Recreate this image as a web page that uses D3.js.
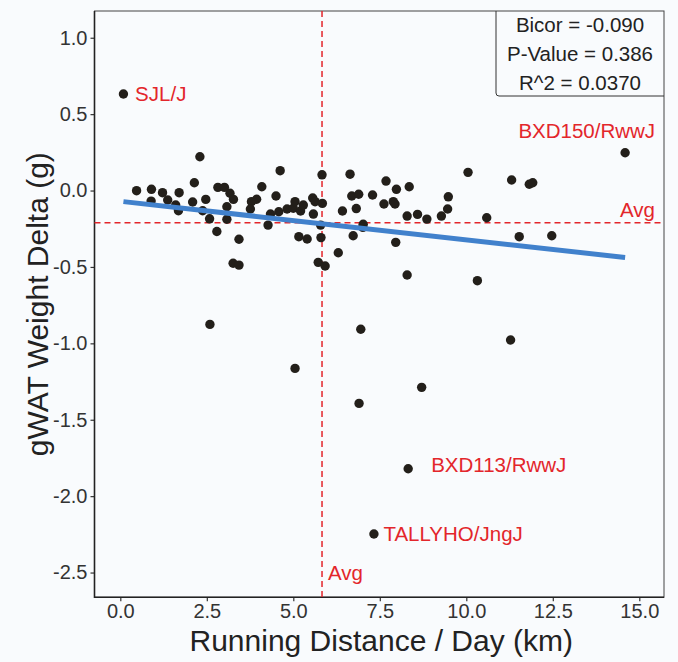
<!DOCTYPE html>
<html>
<head>
<meta charset="utf-8">
<script src="https://cdn.jsdelivr.net/npm/d3@7"></script>
<style>
  body { margin:0; background:#F9FBFD; }
  text { font-family:"Liberation Sans", Arial, sans-serif; }
</style>
</head>
<body>
<div id="canvas" class="canvas" style="width:678px;height:662px;"></div>
<script>
// running distance per day (km) for each strain
var distance = [0.09,0.47,0.90,0.89,1.22,1.37,1.70,1.60,1.68,2.30,
  2.14,2.09,2.47,2.38,2.58,2.79,2.82,3.01,3.17,3.27,
  3.08,3.08,3.43,3.26,3.43,2.59,4.09,4.62,4.50,3.79,
  3.94,3.76,4.34,4.27,4.58,4.82,5.00,5.05,5.21,5.29,
  5.56,5.63,5.84,5.58,5.83,5.79,5.16,5.40,5.80,6.30,
  5.72,5.92,6.42,6.64,6.69,6.89,6.82,7.29,7.68,7.98,
  8.35,10.05,7.62,7.89,7.94,6.73,7.02,7.01,7.96,8.29,
  8.59,8.86,9.28,9.48,9.46,8.29,10.32,6.95,11.31,11.82,
  11.92,14.59,10.59,11.53,12.47,11.28,5.05,6.90,8.71,8.32,
  7.33];
// gWAT weight delta (g), same order
var delta = [0.632,-0.001,0.008,-0.069,-0.014,-0.062,-0.014,-0.095,-0.132,0.221,
  0.051,-0.075,-0.058,-0.132,-0.185,-0.268,0.021,0.021,-0.018,-0.058,
  -0.106,-0.188,-0.319,-0.476,-0.488,-0.876,0.025,0.130,-0.036,-0.073,
  -0.057,-0.121,-0.154,-0.226,-0.139,-0.121,-0.116,-0.073,-0.134,-0.095,
  -0.049,-0.073,-0.084,-0.154,0.103,-0.226,-0.302,-0.317,-0.308,-0.407,
  -0.470,-0.494,-0.134,0.107,-0.036,-0.024,-0.118,-0.029,0.062,0.008,
  0.025,0.119,-0.088,-0.073,-0.088,-0.296,-0.221,-0.241,-0.339,-0.167,
  -0.156,-0.187,-0.167,-0.041,-0.121,-0.553,-0.590,-0.908,0.069,0.041,
  0.051,0.247,-0.178,-0.302,-0.296,-0.978,-1.164,-1.393,-1.288,-1.821,
  -2.248];

var labelNames = ['SJL/J','BXD150/RwwJ','BXD113/RwwJ','TALLYHO/JngJ'];
var labelIndex = [0,81,89,90];

var statLines = ['Bicor = -0.090','P-Value = 0.386','R^2 = 0.0370'];
var avgDistance = 5.83, avgDelta = -0.211;
var fitIntercept = -0.0703, fitSlope = -0.0252;

var xTicks = [0,2.5,5,7.5,10,12.5,15];
var yTicks = [1,0.5,0,-0.5,-1,-1.5,-2,-2.5];

// margin convention
var m = {t:11,r:14,b:64.7,l:94.5};
var outerWidth = 678, outerHeight = 662;
var w = outerWidth - m.l - m.r,
    h = outerHeight - m.t - m.b;

var svg = d3.select('.canvas')
    .append('svg')
    .attr('width',outerWidth)
    .attr('height',outerHeight);

var plot = svg.append('g')
    .attr('transform','translate(' + m.l + ',' + m.t + ')');

var scaleX = d3.scaleLinear().domain([-0.746,15.714]).range([0,w]);
var scaleY = d3.scaleLinear().domain([-2.662,1.175]).range([h,0]);

var red = '#E3262B', ink = '#231F1A';
// plain hyphen for negatives, like the original
var fmt = function(d){ return d.toFixed(1); };

// axes
var axisX = d3.axisBottom(scaleX).tickValues(xTicks).tickFormat(fmt).tickSize(4).tickPadding(3);
var axisY = d3.axisLeft(scaleY).tickValues(yTicks).tickFormat(fmt).tickSize(4).tickPadding(3);

var gx = plot.append('g').attr('class','axis axis-x')
    .attr('transform','translate(0,' + h + ')')
    .call(axisX);
var gy = plot.append('g').attr('class','axis axis-y')
    .call(axisY);

[gx,gy].forEach(function(g){
  g.select('.domain').remove();
  g.selectAll('line').attr('stroke','#333').attr('stroke-width',1.2);
  g.selectAll('text').attr('fill','#333').style('font-size','20px');
});

// panel border
plot.append('rect')
    .attr('width',w).attr('height',h)
    .attr('fill','none').attr('stroke','#444').attr('stroke-width',1);
plot.append('path')
    .attr('d','M0,0V' + h + 'H' + w)
    .attr('fill','none').attr('stroke','#222').attr('stroke-width',1.6);

// average lines
plot.append('line')
    .attr('x1',scaleX(avgDistance)).attr('x2',scaleX(avgDistance))
    .attr('y1',0).attr('y2',h)
    .attr('stroke',red).attr('stroke-width',1.5).attr('stroke-dasharray','6,4');
plot.append('line')
    .attr('x1',0).attr('x2',w)
    .attr('y1',scaleY(avgDelta)).attr('y2',scaleY(avgDelta))
    .attr('stroke',red).attr('stroke-width',1.5).attr('stroke-dasharray','6,4');

// points
var pts = distance.map(function(d,i){ return {x:d, y:delta[i]}; });

plot.selectAll('.dot')
    .data(pts)
    .enter()
    .append('circle')
    .attr('class','dot')
    .attr('cx',function(d){ return scaleX(d.x); })
    .attr('cy',function(d){ return scaleY(d.y); })
    .attr('r',4.7)
    .attr('fill',ink);

// fitted line over the data range
var xr = d3.extent(distance);
plot.append('line')
    .attr('x1',scaleX(xr[0])).attr('y1',scaleY(fitIntercept + fitSlope*xr[0]))
    .attr('x2',scaleX(xr[1])).attr('y2',scaleY(fitIntercept + fitSlope*xr[1]))
    .attr('stroke','#4181CC').attr('stroke-width',5);

// strain labels (pixel offsets from the point)
var labelOffset = {
  'SJL/J':{dx:11.7,dy:7,anchor:'start'},
  'BXD150/RwwJ':{dx:30,dy:-15,anchor:'end'},
  'BXD113/RwwJ':{dx:23,dy:3,anchor:'start'},
  'TALLYHO/JngJ':{dx:9.5,dy:7,anchor:'start'}
};
labelNames.forEach(function(name,i){
  var p = pts[labelIndex[i]], o = labelOffset[name];
  plot.append('text')
      .attr('x',scaleX(p.x) + o.dx)
      .attr('y',scaleY(p.y) + o.dy)
      .attr('text-anchor',o.anchor)
      .attr('fill',red)
      .style('font-size','20.5px')
      .text(name);
});

// Avg labels
plot.append('text')
    .attr('x',w - 9).attr('y',scaleY(avgDelta) - 6)
    .attr('text-anchor','end').attr('fill',red).style('font-size','20.5px')
    .text('Avg');
plot.append('text')
    .attr('x',scaleX(avgDistance) + 6).attr('y',h - 17)
    .attr('fill',red).style('font-size','20.5px')
    .text('Avg');

// stats box in the top right corner
var boxW = 168, boxH = 85, r = 3;
plot.append('path')
    .attr('d','M' + (w-boxW) + ',0V' + (boxH-r) + 'Q' + (w-boxW) + ',' + boxH + ' ' + (w-boxW+r) + ',' + boxH + 'H' + w)
    .attr('fill','none').attr('stroke','#333').attr('stroke-width',1);
statLines.forEach(function(s,i){
  plot.append('text')
      .attr('x',w - boxW/2).attr('y',20.5 + i*29)
      .attr('text-anchor','middle').attr('fill','#222')
      .style('font-size','20.5px')
      .text(s);
});

// axis titles
svg.append('text')
    .attr('x',m.l + w/2 + 2).attr('y',651)
    .attr('text-anchor','middle').attr('fill','#222')
    .style('font-size','30px')
    .text('Running Distance / Day (km)');
svg.append('text')
    .attr('transform','translate(48,' + (m.t + h/2) + ') rotate(-90)')
    .attr('text-anchor','middle').attr('fill','#222')
    .style('font-size','30px')
    .text('gWAT Weight Delta (g)');
</script>
</body>
</html>
